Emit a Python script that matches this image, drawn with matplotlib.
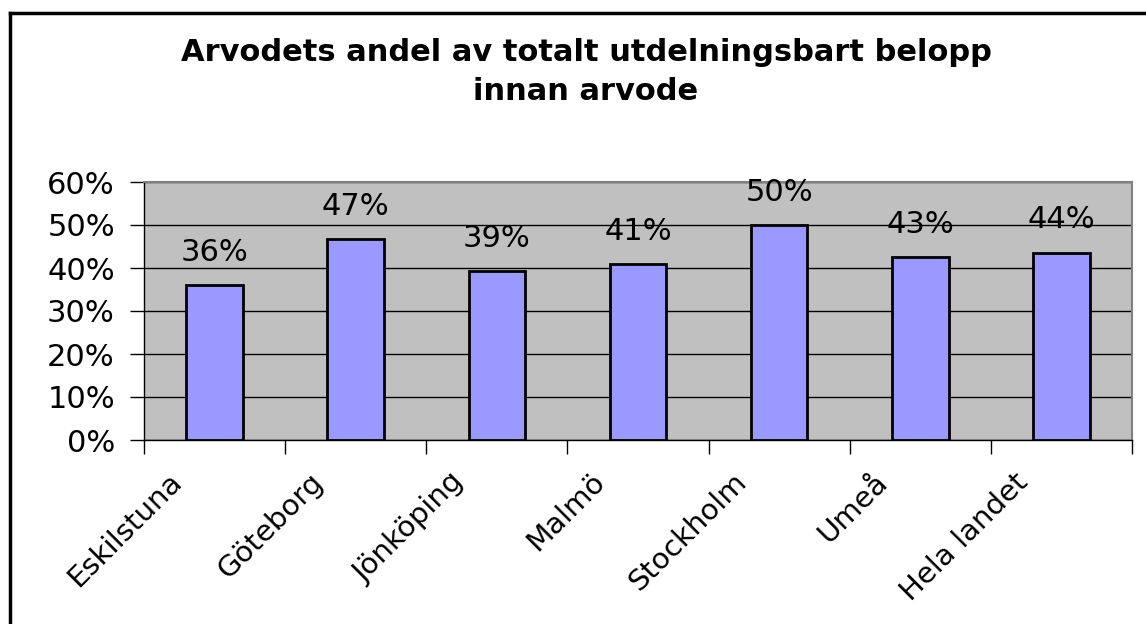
import math
import matplotlib
matplotlib.use("Agg")
import matplotlib.pyplot as plt
from matplotlib.lines import Line2D
from matplotlib.ticker import FuncFormatter, MultipleLocator

categories = ["Eskilstuna", "Göteborg", "Jönköping", "Malmö", "Stockholm", "Umeå", "Hela landet"]
values = [36.0, 46.8, 39.2, 40.9, 50.1, 42.6, 43.6]
title = "Arvodets andel av totalt utdelningsbart belopp\ninnan arvode"

plt.rcParams['font.family'] = ['DejaVu Sans']

W, H = 1146, 624
fig = plt.figure(figsize=(W / 100, H / 100), dpi=100)
fig.patch.set_facecolor('white')

# plot area in pixels
L, T, R, B = 144, 182, 1132, 440
ax = fig.add_axes([L / W, 1 - B / H, (R - L) / W, (B - T) / H])
ax.set_facecolor('#C0C0C0')

x = list(range(len(categories)))
ax.bar(x, values, width=0.4, color='#9999FF', edgecolor='black', linewidth=2, zorder=3)

ax.set_xlim(-0.5, len(categories) - 0.5)
ax.set_ylim(0, 60)
ax.yaxis.set_major_locator(MultipleLocator(10))
ax.yaxis.set_major_formatter(FuncFormatter(lambda v, p: f"{int(round(v))}%"))
ax.grid(axis='y', color='black', linewidth=1, zorder=1)
ax.set_axisbelow(True)

# x ticks at category boundaries
ax.set_xticks([i - 0.5 for i in range(len(categories) + 1)])
ax.set_xticklabels([])
ax.tick_params(axis='x', length=10, width=1, color='black', direction='out')
ax.tick_params(axis='y', length=10, width=1, color='black', direction='out', labelsize=22, pad=11)

for i, c in enumerate(categories):
    ax.annotate(c, xy=(i, 0), xycoords=('data', 'axes fraction'),
                xytext=(-34, -20), textcoords='offset points',
                rotation=45, ha='right', va='top', rotation_mode='anchor', fontsize=21)

for s in ['top', 'right']:
    ax.spines[s].set_color('#808080')
    ax.spines[s].set_linewidth(1.5)
for s in ['left', 'bottom']:
    ax.spines[s].set_color('black')
    ax.spines[s].set_linewidth(1)

for i, v in enumerate(values):
    ax.annotate(f"{math.floor(v + 0.5)}%", xy=(i, v), xytext=(0, 13), textcoords='offset points',
                ha='center', va='bottom', fontsize=22, zorder=4)

fig.text(586 / W, 1 - 72 / H, title, ha='center', va='center', fontsize=22,
         fontweight='bold', linespacing=1.4)

# figure border (top and left visible)
fig.add_artist(Line2D([10 / W, 1], [1 - 13 / H, 1 - 13 / H], color='black', linewidth=2.5,
                      transform=fig.transFigure))
fig.add_artist(Line2D([10 / W, 10 / W], [0, 1 - 13 / H], color='black', linewidth=2.5,
                      transform=fig.transFigure))

fig.savefig("out.png", dpi=100)
